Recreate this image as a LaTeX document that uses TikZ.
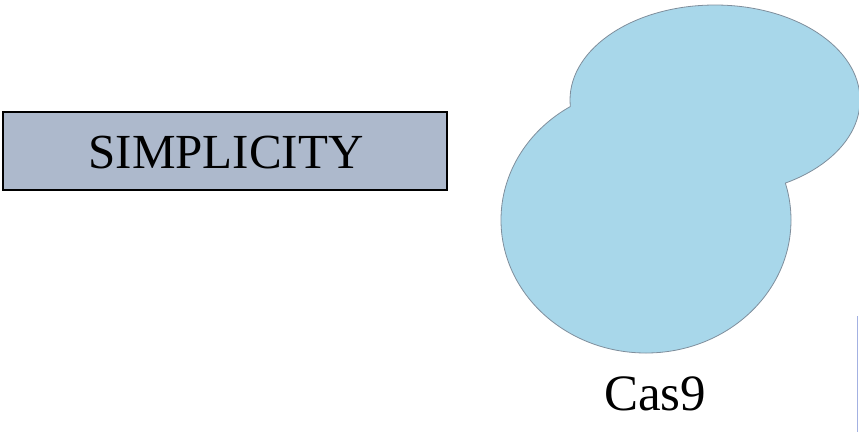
\documentclass[tikz,border=0pt]{standalone}
\usepackage{fontspec}
\setmainfont{Liberation Serif}
\definecolor{boxfill}{HTML}{ADB9CC}
\definecolor{blobfill}{HTML}{A8D7EA}
\definecolor{blobline}{HTML}{7F8E9C}
\definecolor{sideline}{HTML}{A3B1E2}
\tikzset{
  titlebox/.style={draw=black, line width=1.2pt, fill=boxfill, minimum width=444pt, minimum height=78pt, inner sep=0pt},
  bloboutline/.style={draw=blobline, line width=0.8pt},
}
\begin{document}
\begin{tikzpicture}[x=1pt,y=-1pt]
\useasboundingbox (0,0) rectangle (859,432);
\node[titlebox] (box) at (225,151) {};
\node[font=\fontsize{49}{55}\selectfont, inner sep=0pt, anchor=base] (simp) at (226,168) {SIMPLICITY};
% blob (Cas9)
\fill[blobfill] (646,220) ellipse [x radius=145, y radius=133];
\fill[blobfill] (715,100) ellipse [x radius=145, y radius=95];
\begin{scope}[even odd rule]
  \clip (0,0) rectangle (859,432) (715,100) ellipse [x radius=145, y radius=95];
  \draw[bloboutline] (646,220) ellipse [x radius=145, y radius=133];
\end{scope}
\begin{scope}[even odd rule]
  \clip (0,0) rectangle (859,432) (646,220) ellipse [x radius=145, y radius=133];
  \draw[bloboutline] (715,100) ellipse [x radius=145, y radius=95];
\end{scope}
\node[font=\fontsize{51}{56}\selectfont, inner sep=0pt, anchor=base] (cas) at (655,410) {Cas9};
\coordinate (s1) at (857.5,316);
\coordinate (s2) at (857.5,432);
\draw[sideline, line width=1.5pt] (s1) -- (s2);
\end{tikzpicture}
\end{document}
